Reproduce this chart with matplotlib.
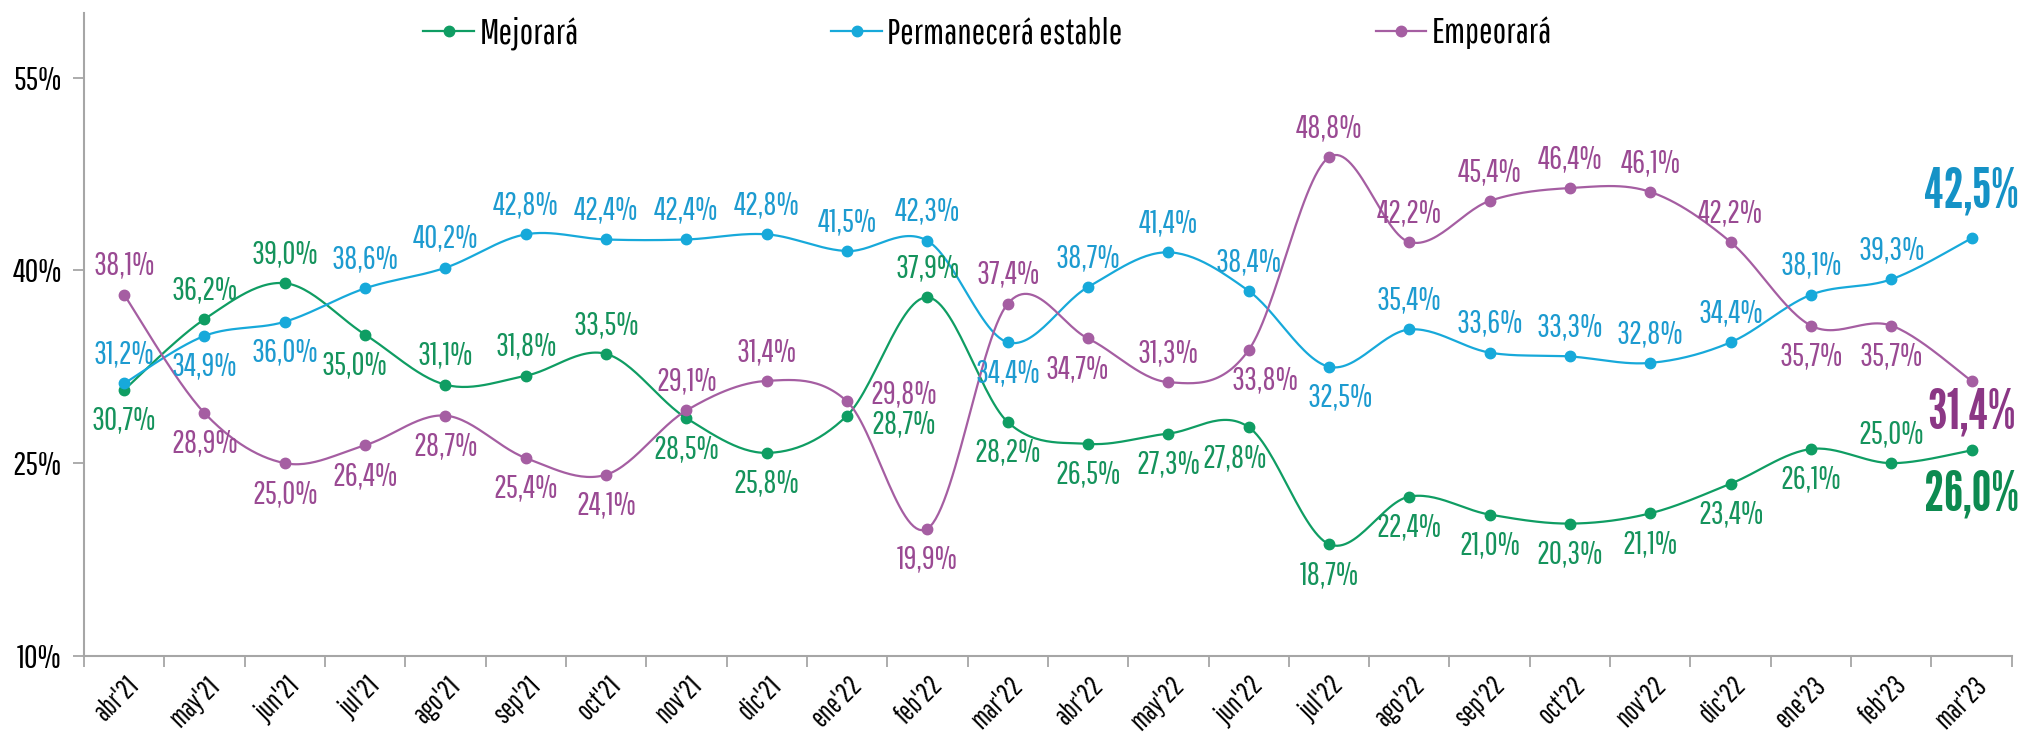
import numpy as np
import matplotlib
matplotlib.use("Agg")
import matplotlib.pyplot as plt
from matplotlib.transforms import ScaledTranslation

plt.rcParams["font.family"] = ["Pathway Gothic One", "DejaVu Sans"]

meses = ["abr'21", "may'21", "jun'21", "jul'21", "ago'21", "sep'21", "oct'21", "nov'21",
         "dic'21", "ene'22", "feb'22", "mar'22", "abr'22", "may'22", "jun'22", "jul'22",
         "ago'22", "sep'22", "oct'22", "nov'22", "dic'22", "ene'23", "feb'23", "mar'23"]

mejorara = [30.7, 36.2, 39.0, 35.0, 31.1, 31.8, 33.5, 28.5, 25.8, 28.7, 37.9, 28.2,
            26.5, 27.3, 27.8, 18.7, 22.4, 21.0, 20.3, 21.1, 23.4, 26.1, 25.0, 26.0]
estable = [31.2, 34.9, 36.0, 38.6, 40.2, 42.8, 42.4, 42.4, 42.8, 41.5, 42.3, 34.4,
           38.7, 41.4, 38.4, 32.5, 35.4, 33.6, 33.3, 32.8, 34.4, 38.1, 39.3, 42.5]
empeorara = [38.1, 28.9, 25.0, 26.4, 28.7, 25.4, 24.1, 29.1, 31.4, 29.8, 19.9, 37.4,
             34.7, 31.3, 33.8, 48.8, 42.2, 45.4, 46.4, 46.1, 42.2, 35.7, 35.7, 31.4]

# where each value label sits: a = above, b = below, r = to the right
pos_mej = "baabaaabbrabbbbbbbbbbbab"
pos_est = "abbaaaaaaaabaaabaaaaaaaa"
pos_emp = "abbbbbbaarbababaaaaaabbb"
# small horizontal nudges (points)
dx_mej = {3: -8, 14: -10}
dx_est = {15: 8}
dx_emp = {12: -8, 14: 12}

c_mej, c_est, c_emp = "#0f9d63", "#17a9da", "#a55ea2"
t_mej, t_est, t_emp = "#15935c", "#1d9bd0", "#9a4a93"
b_mej, b_est, b_emp = "#0d8a50", "#1592c6", "#8b3785"


def smooth(y, n=30):
    # Catmull-Rom style bezier, like the spreadsheet "smoothed line"
    p = np.column_stack([np.arange(len(y)), np.asarray(y, float)])
    ext = np.vstack([p[0], p, p[-1]])
    t = np.linspace(0, 1, n)[:, None]
    out = []
    for i in range(len(p) - 1):
        p0, p1, p2, p3 = ext[i], ext[i + 1], ext[i + 2], ext[i + 3]
        c1 = p1 + (p2 - p0) / 6
        c2 = p2 - (p3 - p1) / 6
        seg = ((1 - t) ** 3) * p1 + 3 * ((1 - t) ** 2) * t * c1 + 3 * (1 - t) * t ** 2 * c2 + t ** 3 * p2
        out.append(seg if i == 0 else seg[1:])
    s = np.vstack(out)
    return s[:, 0], s[:, 1]


fig = plt.figure(figsize=(20.28, 7.35), dpi=100)
ax = fig.add_axes([0.0414, 0.1075, 0.9506, 0.8745])

x = np.arange(len(meses))
series = [
    ("Mejorará", mejorara, c_mej, t_mej, b_mej, pos_mej, dx_mej, -32),
    ("Permanecerá estable", estable, c_est, t_est, b_est, pos_est, dx_est, 33),
    ("Empeorará", empeorara, c_emp, t_emp, b_emp, pos_emp, dx_emp, -23),
]
handles = []
for name, vals, col, tcol, bcol, pos, dxs, last_dy in series:
    sx, sy = smooth(vals)
    ax.plot(sx, sy, color=col, lw=1.6, zorder=2)
    ax.plot(x, vals, "o", color=col, ms=7.5, zorder=3)
    h, = ax.plot([], [], "-o", color=col, lw=1.6, ms=7.5)
    handles.append(h)
    for i, v in enumerate(vals):
        txt = f"{v:.1f}%".replace(".", ",")
        if i == len(vals) - 1:
            ax.annotate(txt, (x[i], v), xytext=(0, last_dy), textcoords="offset points",
                        ha="center", va="center", fontsize=40, color=bcol,
                        family=["League Gothic", "DejaVu Sans"], fontweight="bold")
            continue
        p = pos[i]
        if p == "a":
            off = (dxs.get(i, 0), 21)
        elif p == "b":
            off = (dxs.get(i, 0), -22)
        else:
            off = (41, 5 if vals is empeorara else -6)
        ax.annotate(txt, (x[i], v), xytext=off, textcoords="offset points",
                    ha="center", va="center", fontsize=23, color=tcol)

ax.set_xlim(-0.5, len(meses) - 0.5)
ax.set_ylim(10, 60)
ax.set_yticks([10, 25, 40, 55])
ax.set_yticklabels(["10%", "25%", "40%", "55%"])
ax.set_xticks(np.arange(len(meses) + 1) - 0.5)
ax.set_xticklabels([])
ax.set_xticks(x, minor=True)
ax.set_xticklabels(meses, minor=True, rotation=45, ha="right", va="center", rotation_mode="anchor")
ax.tick_params(axis="x", which="major", length=8, width=1.3, color="#a6a6a6", direction="out")
ax.tick_params(axis="x", which="minor", length=0, pad=0, labelsize=20)
ax.tick_params(axis="y", length=8, width=1.3, color="#a6a6a6", labelsize=24, pad=8)
# put the end of each rotated month label just right of its category, under the axis
shift = ScaledTranslation(11 / 100, -25 / 100, fig.dpi_scale_trans)
for lab in ax.get_xticklabels(minor=True):
    lab.set_transform(lab.get_transform() + shift)
for s in ("top", "right"):
    ax.spines[s].set_visible(False)
for s in ("left", "bottom"):
    ax.spines[s].set_color("#a6a6a6")
    ax.spines[s].set_linewidth(1.5)

fig.legend(handles, [s[0] for s in series], loc="center", bbox_to_anchor=(0.487, 0.955),
           ncol=3, frameon=False, fontsize=26, handlelength=1.4, handletextpad=0.15,
           columnspacing=7.0)

fig.savefig("out.png", dpi=100)
